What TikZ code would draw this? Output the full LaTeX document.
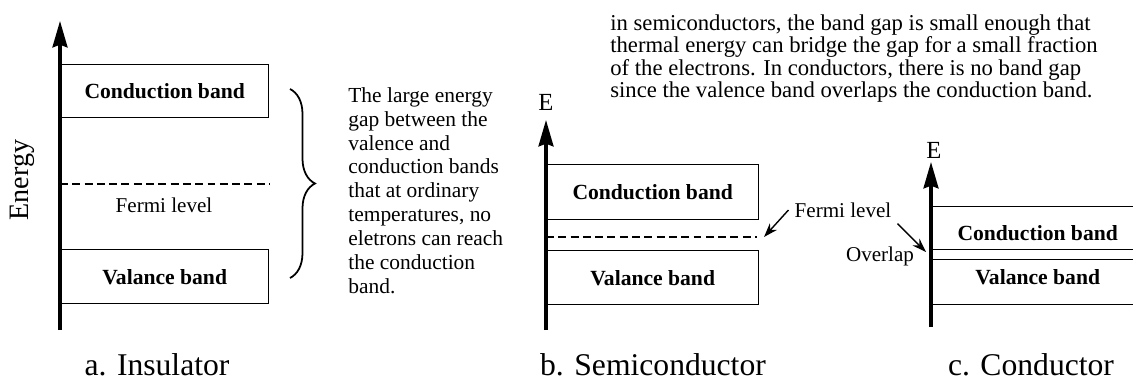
\documentclass[tikz,border=0pt]{standalone}
\usepackage{fontspec}
\setmainfont{Liberation Serif}
\usetikzlibrary{arrows.meta,positioning,decorations.pathreplacing}

\begin{document}
\begin{tikzpicture}[
  x=0.02cm, y=-0.02cm,
  font=\fontsize{12}{13.6}\selectfont,
  >=Stealth,
  band/.style={draw,line width=0.8pt,minimum width=4.24cm,minimum height=1.08cm,
    inner sep=0pt,anchor=north west,font=\fontsize{12.3}{14}\selectfont\bfseries},
  eaxis/.style={line width=1.8pt,-{Stealth[length=15pt,width=8.5pt,inset=1.5pt]}},
  fermi/.style={line width=0.8pt,dash pattern=on 4.5pt off 2.5pt},
  pointer/.style={line width=0.8pt,-{Stealth[length=8pt,width=5.5pt]}},
  axlabel/.style={font=\fontsize{14}{16}\selectfont},
  caption/.style={font=\fontsize{18}{20}\selectfont,anchor=base},
  note/.style={align=left,inner sep=0pt,anchor=north west}
]
  \useasboundingbox (0,0) rectangle (1133,385);
  \clip (0,0) rectangle (1133,385);

  % a. Insulator
  \node[band,minimum width=4.16cm,minimum height=1.06cm] (condA) at (60,64) {Conduction band};
  \node[band,minimum width=4.16cm] (valA) at (60,249) {Valance band};
  \draw[fermi] (60,184) -- (270,184);
  \node (fermiA) at (164,205) {Fermi level};
  \draw[eaxis] (60,330) -- (60,21);
  \node[rotate=90,font=\fontsize{16}{18}\selectfont] (energy) at (22,180) {Energy};
  \draw[line width=1pt,decorate,decoration={brace,amplitude=0.5cm}] (290,89) -- (290,278);
  \node[note,font=\fontsize{12.2}{13.6}\selectfont] (gapnote) at (348,87) {The large energy\\gap between the\\valence and\\conduction bands\\that at ordinary\\temperatures, no\\eletrons can reach\\the conduction\\band.};
  \node[caption] (capA) at (157,375) {a. Insulator};

  % b. Semiconductor
  \node[band,minimum height=1.1cm] (condB) at (546,164) {Conduction band};
  \node[band] (valB) at (546,250) {Valance band};
  \draw[fermi] (546,237) -- (757,237);
  \draw[eaxis] (546,330) -- (546,120);
  \node[axlabel] (eB) at (546,102) {E};
  \node (fermiB) at (843,210) {Fermi level};
  \coordinate (fermiLineB) at (764,237);
  \draw[pointer] (fermiB.west) -- (fermiLineB);
  \node[caption] (capB) at (653,375) {b. Semiconductor};
  \node[note,font=\fontsize{12.9}{12.8}\selectfont] (topnote) at (610,14) {in semiconductors, the band gap is small enough that\\thermal energy can bridge the gap for a small fraction\\of the electrons. In conductors, there is no band gap\\since the valence band overlaps the conduction band.};

  % c. Conductor
  \node[band,minimum height=1.06cm] (condC) at (931,206) {Conduction band};
  \node[band,minimum height=1.1cm] (valC) at (931,249) {Valance band};
  \draw[eaxis] (931,327) -- (931,162);
  \node[axlabel] (eC) at (934,150) {E};
  \node (overlap) at (880,256) {Overlap};
  \coordinate (overlapPt) at (926,252);
  \draw[pointer] (fermiB.south east) -- (overlapPt);
  \node[caption] (capC) at (1031,375) {c. Conductor};
\end{tikzpicture}
\end{document}
